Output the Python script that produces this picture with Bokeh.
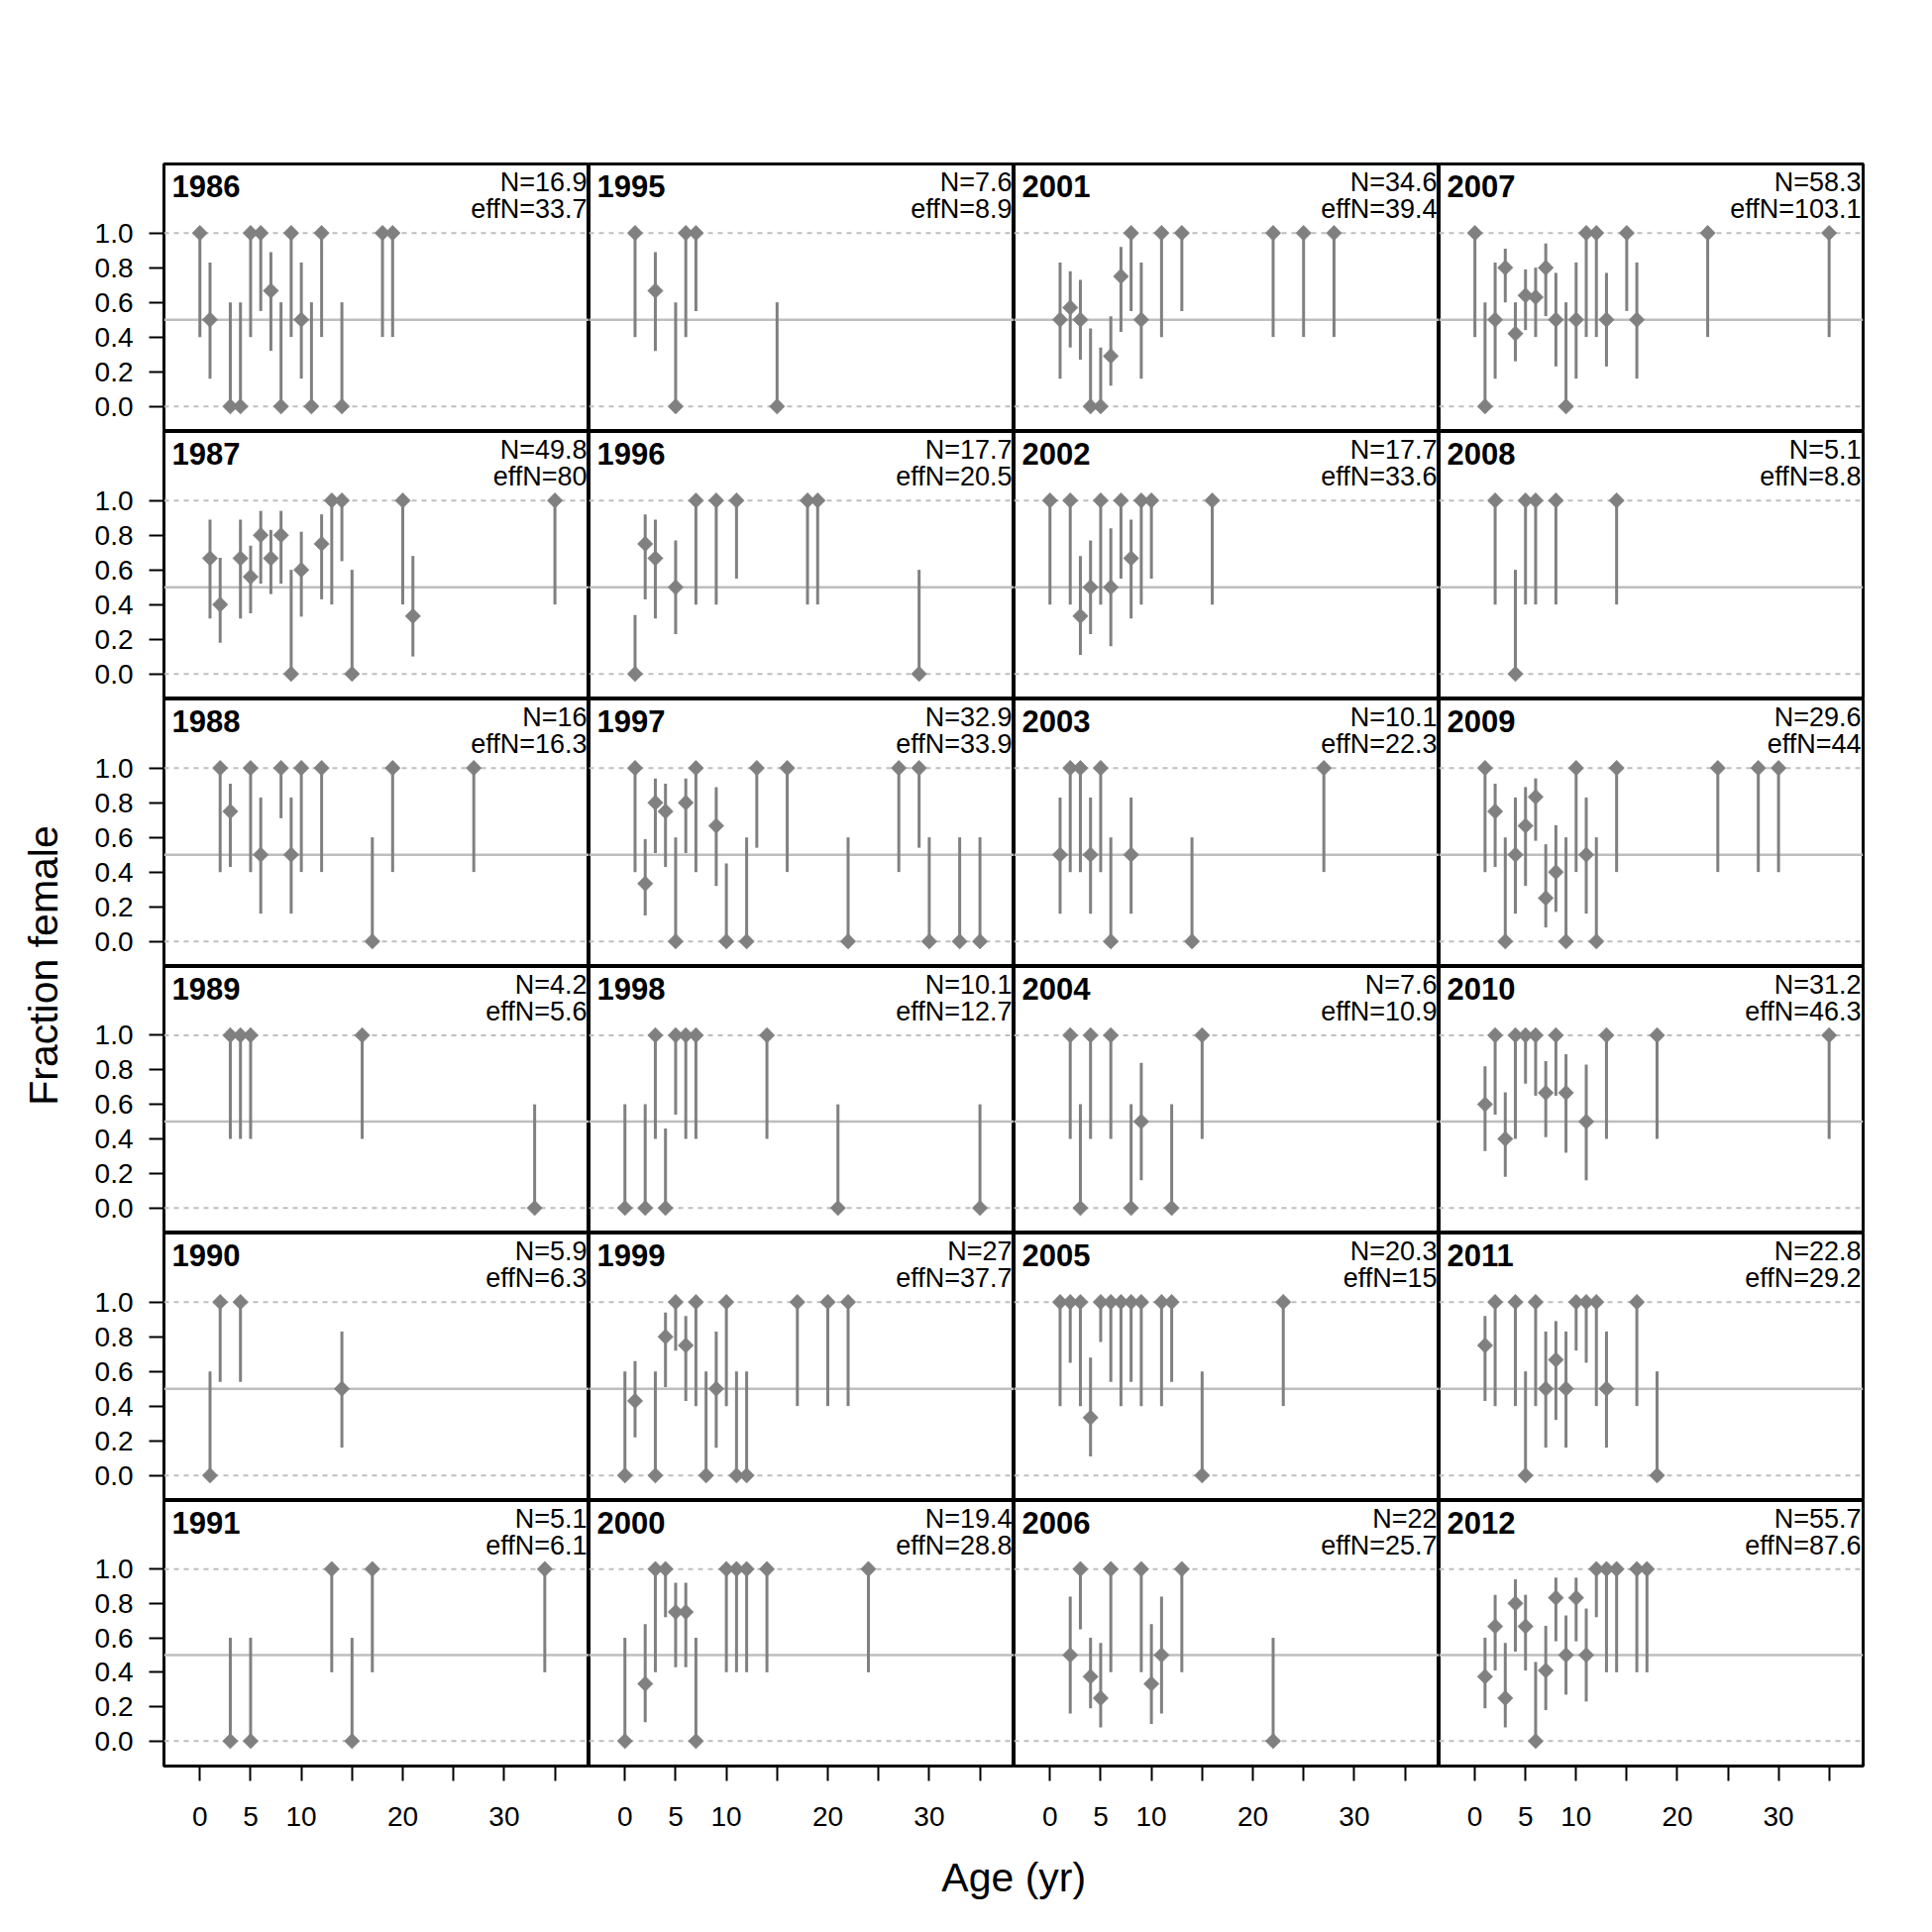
import math
from bokeh.plotting import figure
from bokeh.layouts import row, column
from bokeh.models import (Range1d, FixedTicker, Span, Label, ColumnDataSource,
                          LinearAxis, PrintfTickFormatter)
from bokeh.embed import file_html
from bokeh.resources import INLINE

# ------------------------------------------------------------------ data
ages_1986 = [0, 1, 3, 4, 5, 6, 7, 8, 9, 10, 11, 12, 14, 18, 19]
frac_1986 = [1, 0.5, 0, 0, 1, 1, 0.667, 0, 1, 0.5, 0, 1, 0, 1, 1]
lo_1986 = [0.40, 0.16, 0, 0, 0.40, 0.55, 0.32, 0, 0.40, 0.16, 0, 0.40, 0, 0.40, 0.40]
hi_1986 = [1, 0.83, 0.60, 0.60, 1, 1, 0.89, 0.60, 1, 0.83, 0.60, 1, 0.60, 1, 1]

ages_1987 = [1, 2, 4, 5, 6, 7, 8, 9, 10, 12, 13, 14, 15, 20, 21, 35]
frac_1987 = [0.667, 0.4, 0.667, 0.56, 0.8, 0.667, 0.8, 0, 0.6, 0.75, 1, 1, 0, 1, 0.333, 1]
lo_1987 = [0.32, 0.18, 0.32, 0.35, 0.52, 0.46, 0.52, 0, 0.33, 0.43, 0.40, 0.65, 0, 0.40, 0.10, 0.40]
hi_1987 = [0.89, 0.67, 0.89, 0.74, 0.94, 0.83, 0.94, 0.60, 0.82, 0.92, 1, 1, 0.60, 1, 0.68, 1]

ages_1988 = [2, 3, 5, 6, 8, 9, 10, 12, 17, 19, 27]
frac_1988 = [1, 0.75, 1, 0.5, 1, 0.5, 1, 1, 0, 1, 1]
lo_1988 = [0.40, 0.43, 0.40, 0.16, 0.71, 0.16, 0.40, 0.40, 0, 0.40, 0.40]
hi_1988 = [1, 0.91, 1, 0.83, 1, 0.83, 1, 1, 0.60, 1, 1]

ages_1989 = [3, 4, 5, 16, 33]
frac_1989 = [1, 1, 1, 1, 0]
lo_1989 = [0.4, 0.4, 0.4, 0.4, 0]
hi_1989 = [1, 1, 1, 1, 0.6]

ages_1990 = [1, 2, 4, 14]
frac_1990 = [0, 1, 1, 0.5]
lo_1990 = [0, 0.54, 0.54, 0.16]
hi_1990 = [0.6, 1, 1, 0.83]

ages_1991 = [3, 5, 13, 15, 17, 34]
frac_1991 = [0, 0, 1, 0, 1, 1]
lo_1991 = [0, 0, 0.4, 0, 0.4, 0.4]
hi_1991 = [0.6, 0.6, 1, 0.6, 1, 1]

ages_1995 = [1, 3, 5, 6, 7, 15]
frac_1995 = [1, 0.667, 0, 1, 1, 0]
lo_1995 = [0.4, 0.32, 0, 0.4, 0.55, 0]
hi_1995 = [1, 0.89, 0.6, 1, 1, 0.6]

ages_1996 = [1, 2, 3, 5, 7, 9, 11, 18, 19, 29]
frac_1996 = [0, 0.75, 0.667, 0.5, 1, 1, 1, 1, 1, 0]
lo_1996 = [0, 0.43, 0.32, 0.23, 0.4, 0.4, 0.55, 0.4, 0.4, 0]
hi_1996 = [0.34, 0.92, 0.89, 0.77, 1, 1, 1, 1, 1, 0.6]

ages_1997 = [1, 2, 3, 4, 5, 6, 7, 9, 10, 12, 13, 16, 22, 27, 29, 30, 33, 35]
frac_1997 = [1, 0.333, 0.8, 0.75, 0, 0.8, 1, 0.667, 0, 0, 1, 1, 0, 1, 1, 0, 0, 0]
lo_1997 = [0.4, 0.15, 0.51, 0.43, 0, 0.51, 0.4, 0.32, 0, 0, 0.54, 0.4, 0, 0.4, 0.54, 0, 0, 0]
hi_1997 = [1, 0.59, 0.94, 0.91, 0.6, 0.94, 1, 0.89, 0.45, 0.6, 1, 1, 0.6, 1, 1, 0.6, 0.6, 0.6]

ages_1998 = [0, 2, 3, 4, 5, 6, 7, 14, 21, 35]
frac_1998 = [0, 0, 1, 0, 1, 1, 1, 1, 0, 0]
lo_1998 = [0, 0, 0.4, 0, 0.54, 0.4, 0.4, 0.4, 0, 0]
hi_1998 = [0.6, 0.6, 1, 0.46, 1, 1, 1, 1, 0.6, 0.6]

ages_1999 = [0, 1, 3, 4, 5, 6, 7, 8, 9, 10, 11, 12, 17, 20, 22]
frac_1999 = [0, 0.43, 0, 0.8, 1, 0.75, 1, 0, 0.5, 1, 0, 0, 1, 1, 1]
lo_1999 = [0, 0.22, 0, 0.51, 0.72, 0.43, 0.4, 0, 0.16, 0.4, 0, 0, 0.4, 0.4, 0.4]
hi_1999 = [0.6, 0.66, 0.6, 0.94, 1, 0.92, 1, 0.6, 0.83, 1, 0.6, 0.6, 1, 1, 1]

ages_2000 = [0, 2, 3, 4, 5, 6, 7, 10, 11, 12, 14, 24]
frac_2000 = [0, 0.333, 1, 1, 0.75, 0.75, 0, 1, 1, 1, 1, 1]
lo_2000 = [0, 0.11, 0.4, 0.72, 0.43, 0.43, 0, 0.4, 0.4, 0.4, 0.4, 0.4]
hi_2000 = [0.6, 0.68, 1, 1, 0.92, 0.92, 0.6, 1, 1, 1, 1, 1]

ages_2001 = [1, 2, 3, 4, 5, 6, 7, 8, 9, 11, 13, 22, 25, 28]
frac_2001 = [0.5, 0.57, 0.5, 0, 0, 0.29, 0.75, 1, 0.5, 1, 1, 1, 1, 1]
lo_2001 = [0.16, 0.34, 0.27, 0, 0, 0.12, 0.43, 0.55, 0.16, 0.4, 0.55, 0.4, 0.4, 0.4]
hi_2001 = [0.83, 0.78, 0.73, 0.45, 0.34, 0.52, 0.92, 1, 0.83, 1, 1, 1, 1, 1]

ages_2002 = [0, 2, 3, 4, 5, 6, 7, 8, 9, 10, 16]
frac_2002 = [1, 1, 0.333, 0.5, 1, 0.5, 1, 0.667, 1, 1, 1]
lo_2002 = [0.4, 0.4, 0.11, 0.23, 0.4, 0.16, 0.55, 0.32, 0.4, 0.55, 0.4]
hi_2002 = [1, 1, 0.68, 0.77, 1, 0.84, 1, 0.89, 1, 1, 1]

ages_2003 = [1, 2, 3, 4, 5, 6, 8, 14, 27]
frac_2003 = [0.5, 1, 1, 0.5, 1, 0, 0.5, 0, 1]
lo_2003 = [0.16, 0.4, 0.4, 0.16, 0.4, 0, 0.16, 0, 0.4]
hi_2003 = [0.83, 1, 1, 0.83, 1, 0.6, 0.83, 0.6, 1]

ages_2004 = [2, 3, 4, 6, 8, 9, 12, 15]
frac_2004 = [1, 0, 1, 1, 0, 0.5, 0, 1]
lo_2004 = [0.4, 0, 0.4, 0.4, 0, 0.16, 0, 0.4]
hi_2004 = [1, 0.6, 1, 1, 0.6, 0.84, 0.6, 1]

ages_2005 = [1, 2, 3, 4, 5, 6, 7, 8, 9, 11, 12, 15, 23]
frac_2005 = [1, 1, 1, 0.333, 1, 1, 1, 1, 1, 1, 1, 0, 1]
lo_2005 = [0.4, 0.65, 0.4, 0.11, 0.77, 0.54, 0.4, 0.54, 0.4, 0.4, 0.54, 0, 0.4]
hi_2005 = [1, 1, 1, 0.68, 1, 1, 1, 1, 1, 1, 1, 0.6, 1]

ages_2006 = [2, 3, 4, 5, 6, 9, 10, 11, 13, 22]
frac_2006 = [0.5, 1, 0.375, 0.25, 1, 1, 0.333, 0.5, 1, 0]
lo_2006 = [0.16, 0.65, 0.19, 0.08, 0.4, 0.4, 0.10, 0.16, 0.4, 0]
hi_2006 = [0.84, 1, 0.6, 0.57, 1, 1, 0.68, 0.84, 1, 0.6]

ages_2007 = [0, 1, 2, 3, 4, 5, 6, 7, 8, 9, 10, 11, 12, 13, 15, 16, 23, 35]
frac_2007 = [1, 0, 0.5, 0.8, 0.42, 0.64, 0.63, 0.8, 0.5, 0, 0.5, 1, 1, 0.5, 1, 0.5, 1, 1]
lo_2007 = [0.4, 0, 0.16, 0.6, 0.26, 0.44, 0.4, 0.52, 0.23, 0, 0.16, 0.4, 0.4, 0.23, 0.55, 0.16, 0.4, 0.4]
hi_2007 = [1, 0.6, 0.83, 0.91, 0.6, 0.79, 0.8, 0.94, 0.77, 0.6, 0.83, 1, 1, 0.77, 1, 0.83, 1, 1]

ages_2008 = [2, 4, 5, 6, 8, 14]
frac_2008 = [1, 0, 1, 1, 1, 1]
lo_2008 = [0.4, 0, 0.4, 0.4, 0.4, 0.4]
hi_2008 = [1, 0.6, 1, 1, 1, 1]

ages_2009 = [1, 2, 3, 4, 5, 6, 7, 8, 9, 10, 11, 12, 14, 24, 28, 30]
frac_2009 = [1, 0.75, 0, 0.5, 0.667, 0.833, 0.25, 0.4, 0, 1, 0.5, 0, 1, 1, 1, 1]
lo_2009 = [0.4, 0.43, 0, 0.16, 0.32, 0.58, 0.08, 0.17, 0, 0.4, 0.16, 0, 0.4, 0.4, 0.4, 0.4]
hi_2009 = [1, 0.91, 0.6, 0.83, 0.89, 0.94, 0.56, 0.67, 0.6, 1, 0.83, 0.6, 1, 1, 1, 1]

ages_2010 = [1, 2, 3, 4, 5, 6, 7, 8, 9, 11, 13, 18, 35]
frac_2010 = [0.6, 1, 0.4, 1, 1, 1, 0.667, 1, 0.667, 0.5, 1, 1, 1]
lo_2010 = [0.33, 0.54, 0.18, 0.4, 0.72, 0.65, 0.41, 0.65, 0.32, 0.16, 0.4, 0.4, 0.4]
hi_2010 = [0.82, 1, 0.67, 1, 1, 1, 0.85, 1, 0.89, 0.83, 1, 1, 1]

ages_2011 = [1, 2, 4, 5, 6, 7, 8, 9, 10, 11, 12, 13, 16, 18]
frac_2011 = [0.75, 1, 1, 0, 1, 0.5, 0.667, 0.5, 1, 1, 1, 0.5, 1, 0]
lo_2011 = [0.43, 0.4, 0.4, 0, 0.4, 0.16, 0.32, 0.16, 0.72, 0.65, 0.4, 0.16, 0.4, 0]
hi_2011 = [0.92, 1, 1, 0.6, 1, 0.83, 0.89, 0.83, 1, 1, 1, 0.83, 1, 0.6]

ages_2012 = [1, 2, 3, 4, 5, 6, 7, 8, 9, 10, 11, 12, 13, 14, 16, 17]
frac_2012 = [0.375, 0.667, 0.25, 0.8, 0.667, 0, 0.41, 0.833, 0.5, 0.833, 0.5, 1, 1, 1, 1, 1]
lo_2012 = [0.19, 0.41, 0.08, 0.52, 0.41, 0, 0.18, 0.58, 0.27, 0.58, 0.23, 0.72, 0.4, 0.4, 0.4, 0.4]
hi_2012 = [0.6, 0.85, 0.57, 0.94, 0.85, 0.46, 0.67, 0.95, 0.73, 0.95, 0.77, 1, 1, 1, 1, 1]

years = [1986, 1987, 1988, 1989, 1990, 1991,
         1995, 1996, 1997, 1998, 1999, 2000,
         2001, 2002, 2003, 2004, 2005, 2006,
         2007, 2008, 2009, 2010, 2011, 2012]
n_obs = [16.9, 49.8, 16, 4.2, 5.9, 5.1,
         7.6, 17.7, 32.9, 10.1, 27, 19.4,
         34.6, 17.7, 10.1, 7.6, 20.3, 22,
         58.3, 5.1, 29.6, 31.2, 22.8, 55.7]
eff_n = [33.7, 80, 16.3, 5.6, 6.3, 6.1,
         8.9, 20.5, 33.9, 12.7, 37.7, 28.8,
         39.4, 33.6, 22.3, 10.9, 15, 25.7,
         103.1, 8.8, 44, 46.3, 29.2, 87.6]

y_ticks = [0.0, 0.2, 0.4, 0.6, 0.8, 1.0]
x_ticks = [0, 5, 10, 15, 20, 25, 30, 35]
x_tick_labels = ["0", "5", "10", "", "20", "", "30", ""]

g = globals()
panel_data = {yr: (g[f"ages_{yr}"], g[f"frac_{yr}"], g[f"lo_{yr}"], g[f"hi_{yr}"]) for yr in years}
n_text = {yr: (n, e) for yr, n, e in zip(years, n_obs, eff_n)}

# ------------------------------------------------------------------ style / layout
X0, X1 = -3.54, 38.36
Y0, Y1 = -0.145, 1.398
FRAME_W = [429, 429, 429, 428]
FRAME_H = [270, 270, 270, 269, 270, 268]
LEFT_PAD = 85
TOP_PAD = 165
BOTTOM_PAD = 88
RIGHT_PAD = 5
YLAB_W = 80
XLAB_H = 80
FONT = "Liberation Sans"
PT_COLOR = "#808080"
REF_COLOR = "#bebebe"


def fmt(v):
    return f"{v:g}"


def make_panel(year, r, c):
    bl = LEFT_PAD if c == 0 else 0
    br = RIGHT_PAD if c == 3 else 0
    bt = TOP_PAD if r == 0 else 0
    bb = BOTTOM_PAD if r == 5 else 0
    p = figure(width=FRAME_W[c] + bl + br, height=FRAME_H[r] + bt + bb,
               x_range=Range1d(X0, X1), y_range=Range1d(Y0, Y1),
               x_axis_location=None, y_axis_location=None,
               output_backend="svg", toolbar_location=None, title=None,
               min_border_left=bl, min_border_right=br,
               min_border_top=bt, min_border_bottom=bb)
    p.grid.visible = False
    p.outline_line_color = "black"
    p.outline_line_width = 3
    p.background_fill_color = "white"
    p.border_fill_color = "white"

    for loc, dash, lw in [(0.0, "5 5", 2), (1.0, "5 5", 2), (0.5, "solid", 2.5)]:
        p.add_layout(Span(location=loc, dimension="width", line_color=REF_COLOR,
                          line_dash=dash, line_width=lw, level="underlay"))

    ages, frac, lo, hi = panel_data[year]
    src = ColumnDataSource(dict(age=ages, frac=frac, lo=lo, hi=hi))
    p.segment(x0="age", y0="lo", x1="age", y1="hi", source=src,
              line_color=PT_COLOR, line_width=3)
    p.scatter(x="age", y="frac", source=src, marker="square", angle=math.pi / 4,
              size=11, fill_color=PT_COLOR, line_color=PT_COLOR, line_width=0.5)

    p.add_layout(Label(x=X0, y=Y1, x_offset=8, y_offset=-22, text=str(year),
                       text_font=FONT, text_font_style="bold", text_font_size="31px",
                       text_align="left", text_baseline="middle", text_color="black"))
    n, e = n_text[year]
    p.add_layout(Label(x=X1, y=Y1, x_offset=-2, y_offset=-18, text=f"N={fmt(n)}",
                       text_font=FONT, text_font_size="27px",
                       text_align="right", text_baseline="middle", text_color="black"))
    p.add_layout(Label(x=X1, y=Y1, x_offset=-2, y_offset=-45, text=f"effN={fmt(e)}",
                       text_font=FONT, text_font_size="27px",
                       text_align="right", text_baseline="middle", text_color="black"))

    if c == 0:
        ax = LinearAxis(ticker=FixedTicker(ticks=y_ticks),
                        formatter=PrintfTickFormatter(format="%.1f"))
        ax.axis_line_color = None
        ax.major_tick_line_color = "black"
        ax.major_tick_line_width = 2
        ax.major_tick_out = 15
        ax.major_tick_in = 0
        ax.minor_tick_line_color = None
        ax.major_label_text_font = FONT
        ax.major_label_text_font_size = "28px"
        ax.major_label_text_color = "black"
        ax.major_label_standoff = 16
        p.add_layout(ax, "left")
    if r == 5:
        ax = LinearAxis(ticker=FixedTicker(ticks=x_ticks),
                        major_label_overrides={t: l for t, l in zip(x_ticks, x_tick_labels)})
        ax.axis_line_color = None
        ax.major_tick_line_color = "black"
        ax.major_tick_line_width = 2
        ax.major_tick_out = 15
        ax.major_tick_in = 0
        ax.minor_tick_line_color = None
        ax.major_label_text_font = FONT
        ax.major_label_text_font_size = "28px"
        ax.major_label_text_color = "black"
        ax.major_label_standoff = 26
        p.add_layout(ax, "below")
    return p


col_years = [years[0:6], years[6:12], years[12:18], years[18:24]]
grid_rows = []
for r in range(6):
    grid_rows.append(row(*[make_panel(col_years[c][r], r, c) for c in range(4)]))

grid_w = sum(FRAME_W) + LEFT_PAD + RIGHT_PAD
grid_h = sum(FRAME_H) + TOP_PAD + BOTTOM_PAD


def text_fig(w, h):
    f = figure(width=w, height=h, x_range=Range1d(0, w), y_range=Range1d(0, h),
               x_axis_location=None, y_axis_location=None, output_backend="svg",
               toolbar_location=None, title=None, min_border=0)
    f.grid.visible = False
    f.outline_line_color = None
    f.background_fill_color = "white"
    f.border_fill_color = "white"
    return f


ylab = text_fig(YLAB_W, grid_h + XLAB_H)
ylab.add_layout(Label(x=43.5, y=grid_h + XLAB_H - 974, text="Fraction female", angle=math.pi / 2,
                      text_font=FONT, text_font_size="41px", text_align="center",
                      text_baseline="middle", text_color="black"))

xlab = text_fig(grid_w, XLAB_H)
xlab.add_layout(Label(x=1022.7 - YLAB_W, y=XLAB_H - 24, text="Age (yr)",
                      text_font=FONT, text_font_size="41px", text_align="center",
                      text_baseline="middle", text_color="black"))

layout = row(ylab, column(*grid_rows, xlab))

open("out.html", "w").write(file_html(layout, INLINE))
